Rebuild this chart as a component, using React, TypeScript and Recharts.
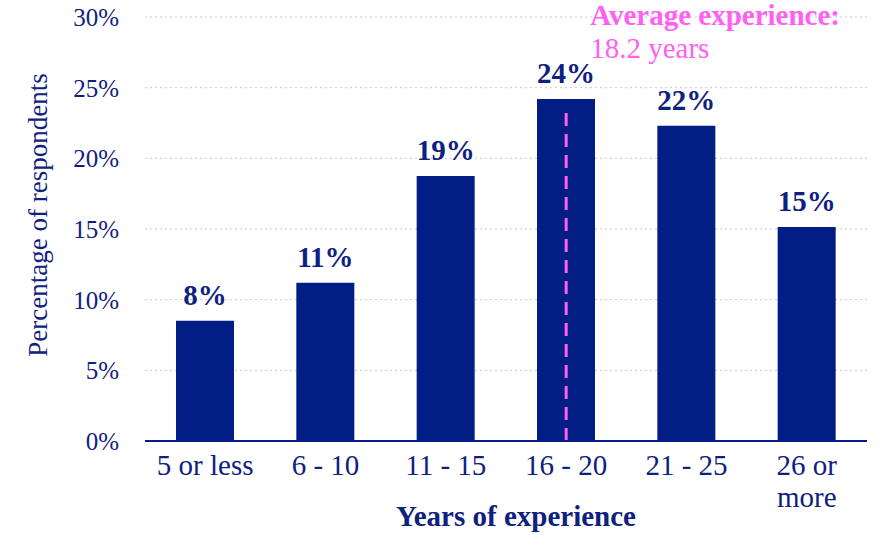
import React from 'react';
import { BarChart, Bar, XAxis, YAxis, CartesianGrid, ReferenceLine, LabelList } from 'recharts';

const categories = ['5 or less', '6 - 10', '11 - 15', '16 - 20', '21 - 25', '26 or\nmore'];
const shares = [8.5, 11.2, 18.75, 24.2, 22.3, 15.15];
const shareLabels = ['8%', '11%', '19%', '24%', '22%', '15%'];
const yTicks = [0, 5, 10, 15, 20, 25, 30];
const avgCategory = '16 - 20';
const avgYears = 18.2;

const NAVY = '#021D84';
const TEXT = '#0F2180';
const PINK = '#FF60F2';
const FONT = '"Liberation Serif", "Times New Roman", serif';

const data = categories.map((c, i) => ({ cat: c, value: shares[i], label: shareLabels[i] }));

// multi-line category ticks ("26 or\nmore")
const CatTick = (props: any) => {
  const { x, y, payload } = props;
  const lines = String(payload.value).split('\n');
  return (
    <text x={x} y={y} textAnchor="middle" fill={TEXT} fontFamily={FONT} fontSize={29}>
      {lines.map((l, i) => (
        <tspan key={i} x={x} dy={i === 0 ? '0.71em' : 32}>{l}</tspan>
      ))}
    </text>
  );
};

export default function App() {
  return (
    <div style={{ position: 'absolute', left: 0, top: 0, width: 884, height: 535, background: '#fff' }}>
      <BarChart
        width={884}
        height={535}
        data={data}
        margin={{ top: 17, right: 17, bottom: 0, left: 0 }}
        style={{ fontFamily: FONT }}
      >
        <CartesianGrid vertical={false} stroke="#c9c9c9" strokeDasharray="2 3" />
        <XAxis
          dataKey="cat"
          height={94}
          tickLine={false}
          axisLine={{ stroke: NAVY, strokeWidth: 2 }}
          tickSize={0}
          tickMargin={13}
          interval={0}
          tick={<CatTick />}
          label={(p: any) => {
            const vb = p.viewBox;
            return (
              <text x={vb.x + vb.width / 2 + 10} y={vb.y + 85} textAnchor="middle" fill={TEXT}
                fontFamily={FONT} fontSize={29} fontWeight="bold">Years of experience</text>
            );
          }}
        />
        <YAxis
          width={145}
          domain={[0, 30]}
          ticks={yTicks}
          tickFormatter={(v: number) => `${v}%`}
          tickLine={false}
          axisLine={false}
          tickSize={0}
          tickMargin={26}
          tick={{ fill: TEXT, fontSize: 25, fontFamily: FONT }}
          label={(p: any) => {
            const vb = p.viewBox;
            const cy = vb.y + vb.height / 2 - 14;
            return (
              <text x={38} y={cy} textAnchor="middle" dominantBaseline="central" fill={TEXT}
                fontFamily={FONT} fontSize={27} transform={`rotate(-90, 38, ${cy})`}>
                Percentage of respondents
              </text>
            );
          }}
        />
        <Bar dataKey="value" fill={NAVY} barSize={58} isAnimationActive={false}>
          <LabelList dataKey="label" position="top" offset={16} fill={TEXT}
            fontSize={29} fontWeight="bold" fontFamily={FONT} />
        </Bar>
        <ReferenceLine
          segment={[{ x: avgCategory, y: 0 }, { x: avgCategory, y: 23.7 }]}
          stroke={PINK}
          strokeWidth={3}
          strokeDasharray="13 8"
          label={(p: any) => {
            const vb = p.viewBox;
            const x = (vb.x ?? 0) + 24;
            return (
              <g>
                <text x={x} y={25} fill={PINK} fontFamily={FONT} fontSize={29} fontWeight="bold">
                  Average experience:
                </text>
                <text x={x} y={58} fill={PINK} fontFamily={FONT} fontSize={29}>
                  {`${avgYears} years`}
                </text>
              </g>
            );
          }}
        />
      </BarChart>
    </div>
  );
}
